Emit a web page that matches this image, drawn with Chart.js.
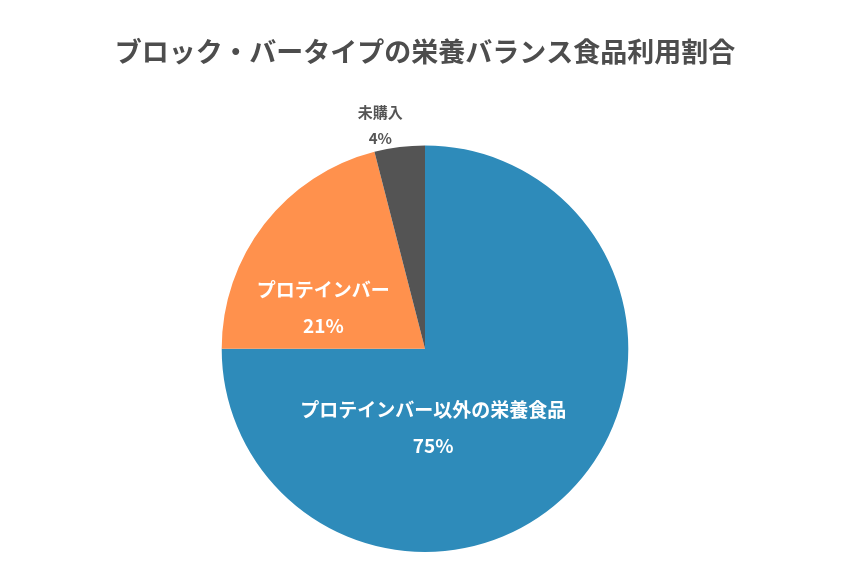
<!DOCTYPE html>
<html><head><meta charset="utf-8">
<script src="https://cdn.jsdelivr.net/npm/chart.js@4/dist/chart.umd.min.js"></script>
<style>body{margin:0;background:#fff}#wrap{width:850px;height:567px;position:relative}</style>
</head><body><div id="wrap"><canvas id="c"></canvas></div>
<script>
const labels=['プロテインバー以外の栄養食品','プロテインバー','未購入'];
const values=[75,21,4];
const colors=['#2E8BBA','#FF914D','#545454'];
const labelColors=['#fff','#fff','#555'];
// label anchor, in radius fractions from centre
const labelPos=[[0.04,0.39],[-0.5,-0.2],[-0.22,-1.1]];

const sliceLabels={id:'sliceLabels',afterDatasetsDraw(chart){
  const ctx=chart.ctx,arc=chart.getDatasetMeta(0).data[0];
  const cx=arc.x,cy=arc.y,r=arc.outerRadius;
  ctx.save();ctx.textAlign='center';ctx.textBaseline='middle';
  labels.forEach((l,i)=>{
    const x=cx+labelPos[i][0]*r,y=cy+labelPos[i][1]*r;
    ctx.fillStyle=labelColors[i];
    ctx.font=(i==2?'bold 15px':'bold 19px')+' "Noto Sans CJK JP"';
    ctx.fillText(l,x,y-(i==2?13:18));
    ctx.fillText(values[i]+'%',x,y+(i==2?13:18));
  });
  ctx.restore();
}};

new Chart(document.getElementById('c'),{
  type:'pie',
  data:{labels:labels,datasets:[{data:values,backgroundColor:colors,borderWidth:0}]},
  options:{responsive:true,maintainAspectRatio:false,animation:false,
    layout:{padding:{top:20,bottom:15}},
    plugins:{legend:{display:false},tooltip:{enabled:false},
      title:{display:true,text:'ブロック・バータイプの栄養バランス食品利用割合',color:'#4d4d4d',
        font:{family:'"Noto Sans CJK JP"',size:27,weight:'bold'},padding:{top:16,bottom:77}}}},
  plugins:[sliceLabels]
});
</script></body></html>
